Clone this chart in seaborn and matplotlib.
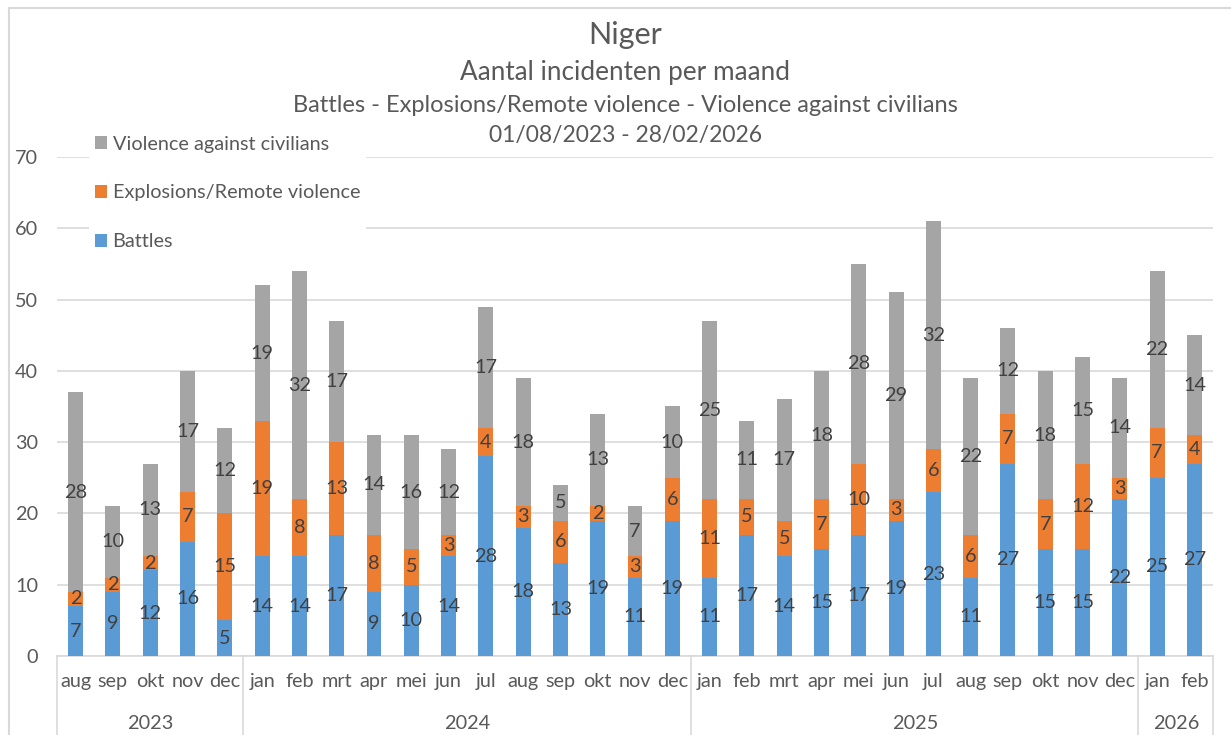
import matplotlib
matplotlib.use("Agg")
import matplotlib.pyplot as plt
from matplotlib.patches import Patch
from matplotlib.lines import Line2D
import numpy as np
import pandas as pd
import seaborn as sns

# data
years = ["2023", "2024", "2025", "2026"]
year_months = [
    ["aug", "sep", "okt", "nov", "dec"],
    ["jan", "feb", "mrt", "apr", "mei", "jun", "jul", "aug", "sep", "okt", "nov", "dec"],
    ["jan", "feb", "mrt", "apr", "mei", "jun", "jul", "aug", "sep", "okt", "nov", "dec"],
    ["jan", "feb"],
]
battles = [7, 9, 12, 16, 5,
           14, 14, 17, 9, 10, 14, 28, 18, 13, 19, 11, 19,
           11, 17, 14, 15, 17, 19, 23, 11, 27, 15, 15, 22,
           25, 27]
explosions = [2, 2, 2, 7, 15,
              19, 8, 13, 8, 5, 3, 4, 3, 6, 2, 3, 6,
              11, 5, 5, 7, 10, 3, 6, 6, 7, 7, 12, 3,
              7, 4]
violence = [28, 10, 13, 17, 12,
            19, 32, 17, 14, 16, 12, 17, 18, 5, 13, 7, 10,
            25, 11, 17, 18, 28, 29, 32, 22, 12, 18, 15, 14,
            22, 14]

series = ["Battles", "Explosions/Remote violence", "Violence against civilians"]
colors = {"Battles": "#5B9BD5",
          "Explosions/Remote violence": "#ED7D31",
          "Violence against civilians": "#A5A5A5"}

months = [m for ms in year_months for m in ms]
keys = [f"{m} {y}" for y, ms in zip(years, year_months) for m in ms]

df = pd.DataFrame({"key": keys, "month": months,
                   "Battles": battles,
                   "Explosions/Remote violence": explosions,
                   "Violence against civilians": violence})
df["lvl1"] = df["Battles"]
df["lvl2"] = df["lvl1"] + df["Explosions/Remote violence"]
df["lvl3"] = df["lvl2"] + df["Violence against civilians"]

sns.set_theme(style="white")
plt.rcParams["font.family"] = ["Lato", "DejaVu Sans"]
txt = "#595959"
grid_c = "#D9D9D9"
fs = 14.3

fig = plt.figure(figsize=(12.31, 7.35), dpi=100)
ax = fig.add_axes([0.0463, 0.1075, 0.9391, 0.6789])

# stacked bars: draw cumulative totals back to front
for col, name in [("lvl3", series[2]), ("lvl2", series[1]), ("lvl1", series[0])]:
    sns.barplot(data=df, x="key", y=col, order=keys, color=colors[name],
                saturation=1, width=0.4, linewidth=0, errorbar=None, ax=ax, zorder=3)

# data labels in the middle of each segment
for i, row in df.iterrows():
    base = 0
    for name in series:
        v = row[name]
        ax.text(i, base + v / 2, str(v), ha="center", va="center",
                fontsize=fs, color="#404040", zorder=5)
        base += v

ax.set_xlim(-0.5, len(keys) - 0.5)
ax.set_ylim(0, 70)
ax.set_yticks(range(0, 71, 10))
ax.yaxis.grid(True, color=grid_c, linewidth=1.2, zorder=0)
ax.set_axisbelow(True)
for s in ["left", "right", "top"]:
    ax.spines[s].set_visible(False)
ax.spines["bottom"].set_color(grid_c)
ax.spines["bottom"].set_linewidth(1.2)
ax.tick_params(axis="y", length=0, pad=13.5, labelsize=fs, labelcolor=txt)
ax.tick_params(axis="x", length=0, pad=12, labelsize=fs, labelcolor=txt)
ax.set_xticks(range(len(keys)))
ax.set_xticklabels(months)
ax.set_xlabel("")
ax.set_ylabel("")

# year level of the category axis
trans = ax.get_xaxis_transform()
bounds = np.cumsum([0] + [len(ms) for ms in year_months]) - 0.5
for b in bounds:
    ax.add_line(Line2D([b, b], [0, -0.16], transform=trans, color=grid_c,
                       linewidth=1.2, clip_on=False))
for y, lo, hi in zip(years, bounds[:-1], bounds[1:]):
    ax.text((lo + hi) / 2, -0.136, y, transform=trans, ha="center", va="center",
            fontsize=fs, color=txt)

# titles
fig.text(0.508, 0.952, "Niger", ha="center", va="center", fontsize=22, color=txt)
fig.text(0.508, 0.902, "Aantal incidenten per maand", ha="center", va="center",
         fontsize=18.8, color=txt)
fig.text(0.508, 0.857, "Battles - Explosions/Remote violence - Violence against civilians",
         ha="center", va="center", fontsize=17, color=txt)
fig.text(0.508, 0.816, "01/08/2023 - 28/02/2026", ha="center", va="center",
         fontsize=16.5, color=txt)

# legend
handles = [Patch(facecolor=colors[n], edgecolor="none") for n in series[::-1]]
leg = ax.legend(handles, series[::-1], loc="upper left",
                bbox_to_anchor=(0.064, 0.837), bbox_transform=fig.transFigure,
                frameon=True, facecolor="white", edgecolor="none", framealpha=1,
                fancybox=False, fontsize=fs, labelspacing=1.6,
                handlelength=0.6, handleheight=0.6, handletextpad=0.3,
                borderpad=0.3, labelcolor=txt)
leg.set_zorder(4)

# chart frame
fig.add_artist(Line2D([9 / 1231, 1], [1 - 8 / 735, 1 - 8 / 735], color=grid_c, linewidth=1.5))
fig.add_artist(Line2D([9 / 1231, 9 / 1231], [0, 1 - 8 / 735], color=grid_c, linewidth=1.5))

fig.savefig("out.png", dpi=100)
